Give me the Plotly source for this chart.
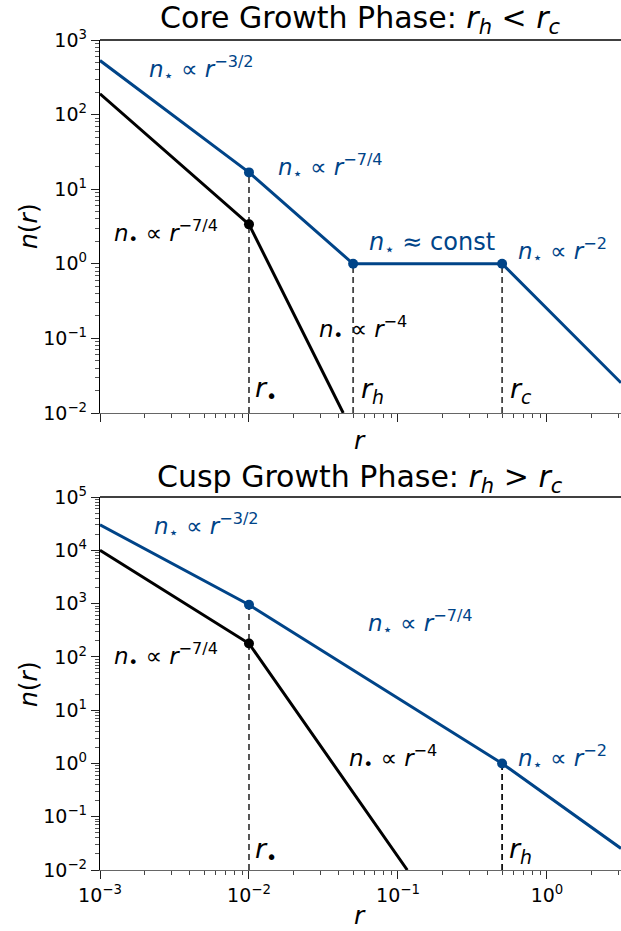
import math
import plotly.graph_objects as go
from plotly.subplots import make_subplots

# ---- data ----
# Core growth phase (top)
core_r_star = [1e-3, 1e-2, 5e-2, 0.5, 3.14]
core_n_star = [530, 16.8, 1.0, 1.0, 0.0254]
core_r_bh = [1e-3, 1e-2, 0.0429]
core_n_bh = [190, 3.38, 0.01]
core_star_marks = [1, 2, 3]
core_bh_marks = [1]

# Cusp growth phase (bottom)
cusp_r_star = [1e-3, 1e-2, 0.5, 3.14]
cusp_n_star = [30000, 950, 1.0, 0.0254]
cusp_r_bh = [1e-3, 1e-2, 0.1155]
cusp_n_bh = [10000, 178, 0.01]
cusp_star_marks = [1, 2]
cusp_bh_marks = [1]

x_range = [1e-3, 3.14]
core_y_range = [1e-2, 1e3]
cusp_y_range = [1e-2, 1e5]

x_exps = [-3, -2, -1, 0]
core_y_exps = [-2, -1, 0, 1, 2, 3]
cusp_y_exps = [-2, -1, 0, 1, 2, 3, 4, 5]

BLUE = "#004488"
BLACK = "black"
FONT = "DejaVu Sans"

W, H = 621, 931
ML, MR, MT, MB = 100, 0, 40, 61

fig = make_subplots(rows=2, cols=1)

def add_panel(row, rs, ns, rb, nb, smarks, bmarks, ymin, vlines):
    fig.add_trace(go.Scatter(x=rs, y=ns, mode="lines", line=dict(color=BLUE, width=3),
                             showlegend=False, hoverinfo="skip"), row=row, col=1)
    fig.add_trace(go.Scatter(x=rb, y=nb, mode="lines", line=dict(color=BLACK, width=3),
                             showlegend=False, hoverinfo="skip"), row=row, col=1)
    for (xv, yv, col) in vlines:
        fig.add_trace(go.Scatter(x=[xv, xv], y=[ymin, yv], mode="lines",
                                 line=dict(color=col, width=1.8, dash="6px,4px"),
                                 showlegend=False, hoverinfo="skip"), row=row, col=1)
    fig.add_trace(go.Scatter(x=[rs[i] for i in smarks], y=[ns[i] for i in smarks], mode="markers",
                             marker=dict(color=BLUE, size=10), cliponaxis=False,
                             showlegend=False, hoverinfo="skip"), row=row, col=1)
    fig.add_trace(go.Scatter(x=[rb[i] for i in bmarks], y=[nb[i] for i in bmarks], mode="markers",
                             marker=dict(color=BLACK, size=10), cliponaxis=False,
                             showlegend=False, hoverinfo="skip"), row=row, col=1)

add_panel(1, core_r_star, core_n_star, core_r_bh, core_n_bh, core_star_marks, core_bh_marks,
          core_y_range[0],
          [(core_r_star[1], core_n_star[1], "#444444"),
           (core_r_star[2], core_n_star[2], "#444444"),
           (core_r_star[3], core_n_star[3], "#444444")])
add_panel(2, cusp_r_star, cusp_n_star, cusp_r_bh, cusp_n_bh, cusp_star_marks, cusp_bh_marks,
          cusp_y_range[0],
          [(cusp_r_star[1], cusp_n_star[1], "#444444"),
           (cusp_r_star[2], cusp_n_star[2], "#111111")])

def pow_text(e):
    s = str(e).replace("-", "−")
    return f"10<sup>{s}</sup>"

def minor_vals(lo, hi):
    out = []
    for k in range(lo, hi + 1):
        for m in range(2, 10):
            out.append(m * 10.0 ** k)
    return out

H_PLOT = H - MT - MB
top_dom = [1 - 373 / H_PLOT, 1.0]
bot_dom = [0.0, 373 / H_PLOT]

common_axis = dict(type="log", showgrid=False, zeroline=False, showline=True, linewidth=1.4,
                   ticks="outside", ticklen=8, tickwidth=1.3, tickcolor="#222",
                   tickfont=dict(family=FONT, size=19, color="black"))

xminor = dict(ticks="outside", ticklen=4, tickwidth=1, tickcolor="#444", showgrid=False,
              tickvals=minor_vals(-3, 0))
fig.update_xaxes(**common_axis, linecolor="#666666",
                 range=[math.log10(x_range[0]), math.log10(x_range[1])],
                 tickvals=[10.0 ** e for e in x_exps], ticktext=[pow_text(e) for e in x_exps],
                 minor=xminor)
fig.update_xaxes(showticklabels=False, row=1, col=1)

fig.update_yaxes(**common_axis, linecolor="black",
                 range=[math.log10(core_y_range[0]), math.log10(core_y_range[1])],
                 tickvals=[10.0 ** e for e in core_y_exps], ticktext=[pow_text(e) for e in core_y_exps],
                 minor=dict(ticks="outside", ticklen=4, tickwidth=1, tickcolor="#555", showgrid=False,
                            tickvals=minor_vals(-2, 2)),
                 domain=top_dom, row=1, col=1)
fig.update_yaxes(**common_axis, linecolor="black",
                 range=[math.log10(cusp_y_range[0]), math.log10(cusp_y_range[1])],
                 tickvals=[10.0 ** e for e in cusp_y_exps], ticktext=[pow_text(e) for e in cusp_y_exps],
                 minor=dict(ticks="outside", ticklen=4, tickwidth=1, tickcolor="#555", showgrid=False,
                            tickvals=minor_vals(-2, 4)),
                 domain=bot_dom, row=2, col=1)

PW = W - ML - MR
PH = H - MT - MB

def P(px, py):
    return (px - ML) / PW, (H - MB - py) / PH

shapes = []
for ytop in (40, 497):
    x0, y0 = P(100, ytop)
    x1, _ = P(621, ytop)
    shapes.append(dict(type="line", xref="paper", yref="paper", x0=x0, x1=x1, y0=y0, y1=y0,
                       line=dict(color="black", width=1.4)))
fig.update_layout(shapes=shapes)

def ann(text, px, py, color="black", size=23, xanchor="left", angle=0):
    x, y = P(px, py)
    fig.add_annotation(text=text, x=x, y=y, xref="paper", yref="paper", showarrow=False,
                       xanchor=xanchor, yanchor="middle", textangle=angle,
                       font=dict(family=FONT, size=size, color=color))

star = "<i>n</i><sub>⋆</sub>"
bh = "<i>n</i><sub>•</sub>"
def pw(e):
    return f"<i>r</i><sup>−{e}</sup>"

# titles
ann("Core Growth Phase: <i>r<sub>h</sub></i> &lt; <i>r<sub>c</sub></i>", 360, 20, size=30, xanchor="center")
ann("Cusp Growth Phase: <i>r<sub>h</sub></i> &gt; <i>r<sub>c</sub></i>", 360, 478, size=30, xanchor="center")

# axis titles
ann("<i>n</i>(<i>r</i>)", 28, 226, size=25, xanchor="center", angle=-90)
ann("<i>n</i>(<i>r</i>)", 28, 684, size=25, xanchor="center", angle=-90)
ann("<i>r</i>", 360, 440, size=25, xanchor="center")
ann("<i>r</i>", 360, 915, size=25, xanchor="center")

# top panel labels
ann(f"{star} ∝ {pw('3/2')}", 147, 68, BLUE)
ann(f"{star} ∝ {pw('7/4')}", 276, 166, BLUE)
ann(f"{bh} ∝ {pw('7/4')}", 112, 232, BLACK)
ann(f"{star} ≈ const", 367, 243, BLUE, size=24)
ann(f"{star} ∝ {pw('2')}", 516, 250, BLUE)
ann(f"{bh} ∝ {pw('4')}", 317, 328, BLACK)
ann("<i>r</i><sub>•</sub>", 253, 389, BLACK, size=27)
ann("<i>r<sub>h</sub></i>", 359, 391, BLACK, size=27)
ann("<i>r<sub>c</sub></i>", 508, 391, BLACK, size=27)

# bottom panel labels
ann(f"{star} ∝ {pw('3/2')}", 152, 525, BLUE)
ann(f"{star} ∝ {pw('7/4')}", 366, 622, BLUE)
ann(f"{bh} ∝ {pw('7/4')}", 112, 655, BLACK)
ann(f"{bh} ∝ {pw('4')}", 347, 757, BLACK)
ann(f"{star} ∝ {pw('2')}", 516, 757, BLUE)
ann("<i>r</i><sub>•</sub>", 253, 850, BLACK, size=27)
ann("<i>r<sub>h</sub></i>", 507, 850, BLACK, size=27)

fig.update_layout(width=W, height=H, margin=dict(l=ML, r=MR, t=MT, b=MB),
                  plot_bgcolor="white", paper_bgcolor="white",
                  font=dict(family=FONT, color="black"))

fig.write_html("out.html", config={"displayModeBar": False},
               post_script="document.body.style.margin='0px';")
